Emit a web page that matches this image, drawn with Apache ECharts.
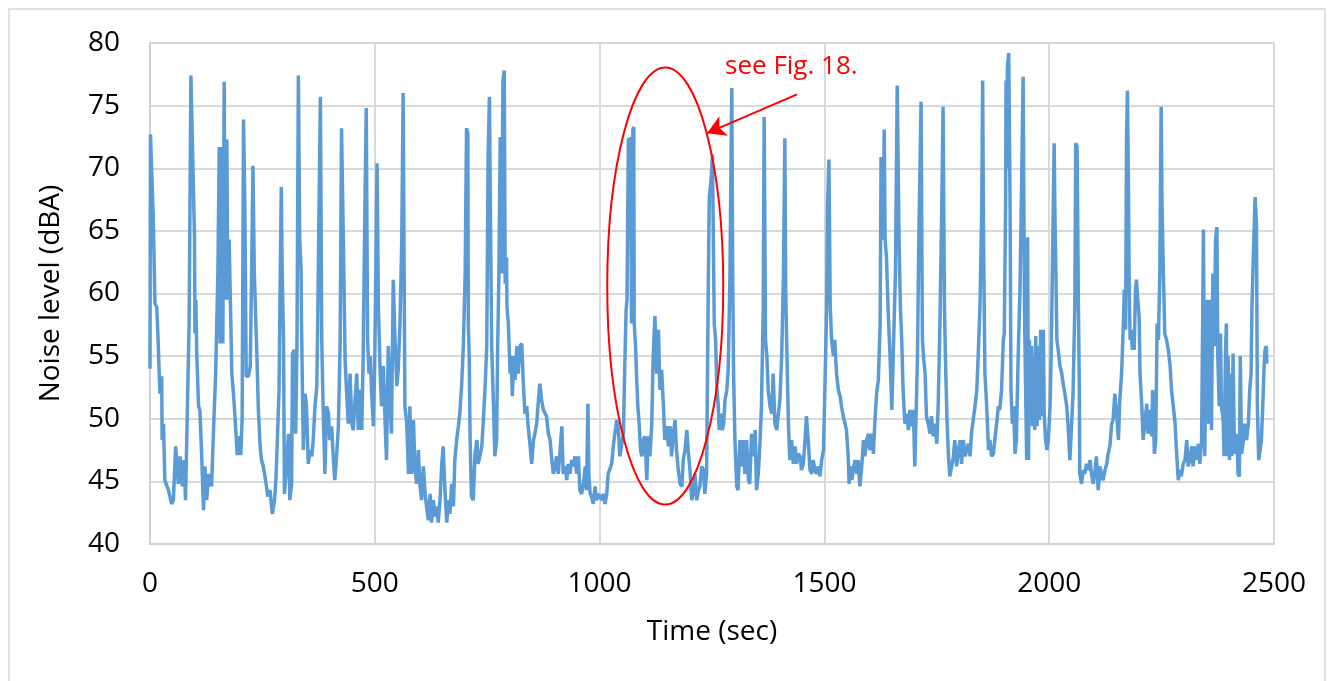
<!DOCTYPE html>
<html>
<head>
<meta charset="utf-8">
<script src="https://cdn.jsdelivr.net/npm/echarts@6/dist/echarts.min.js"></script>
<style>
  html, body { margin: 0; padding: 0; background: #fff; }
  #chart { width: 1334px; height: 681px; }
</style>
</head>
<body>
<div id="chart"></div>
<script>
// noise level time series, [time in sec, level in dBA]
var noiseSamples = [
  [0,54.0],[1,72.7],[2,72.6],[7,66.4],[11,59.2],[15,58.9],[18,56.3],[22,52.0],[26,53.4],[27,48.3],
  [30,49.6],[33,45.1],[41,44.3],[48,43.2],[52,43.5],[57,47.8],[63,44.8],[67,47.0],[72,44.6],[76,46.7],
  [79,43.5],[84,52.3],[87,57.6],[91,77.4],[95,77.3],[99,64.5],[100,56.8],[102,59.5],[104,55.2],[108,51.0],
  [111,50.7],[115,47.0],[119,42.7],[122,46.2],[126,43.5],[131,45.6],[137,44.6],[141,48.8],[146,53.6],[151,61.6],
  [154,71.7],[156,56.0],[159,71.7],[162,56.0],[165,76.9],[167,59.5],[171,72.3],[173,59.5],[176,64.3],[179,59.0],
  [182,53.6],[185,52.3],[189,50.2],[194,47.1],[198,48.6],[202,47.1],[205,50.2],[208,73.9],[211,66.9],[214,53.4],
  [219,53.4],[223,54.2],[226,61.6],[229,70.2],[232,61.6],[235,58.2],[238,54.7],[241,50.7],[245,47.8],[248,46.7],
  [252,46.2],[257,45.1],[262,43.8],[267,44.3],[272,42.4],[277,43.5],[280,45.1],[283,48.0],[287,52.3],[289,59.2],
  [292,68.5],[294,61.6],[297,56.3],[299,44.0],
  [304,46.4],[308,48.8],[311,43.5],[315,44.8],[317,55.2],[321,55.5],[324,48.8],[327,56.3],[330,77.4],[333,64.3],
  [336,61.9],[337,57.6],[341,47.5],[345,52.0],[348,51.0],[352,46.4],[356,47.5],[360,47.0],[363,48.3],[367,51.0],
  [371,52.6],[373,57.6],[376,66.9],[379,75.7],[382,56.3],[385,51.0],[389,45.6],[393,51.0],[397,50.4],[400,48.3],
  [404,49.4],[408,46.7],[411,45.1],[415,47.0],[419,49.4],[423,56.3],[426,73.2],[430,64.3],[434,54.7],[437,52.3],
  [441,49.6],[445,53.6],[449,49.6],[452,49.1],[456,51.5],[460,53.6],[463,49.1],[467,52.3],[471,49.1],[474,54.7],
  [478,66.9],[481,74.8],[484,56.3],[487,53.6],[490,55.0],[493,52.0],[497,49.4],[500,55.0],[505,70.4],[508,58.9],
  [512,53.6],[515,51.0],[519,54.2],[523,49.6],[526,46.7],[530,55.8],[534,51.5],[537,48.8],[541,61.1],[545,56.3],
  [549,52.6],[552,53.9],[556,57.6],[560,64.3],[563,76.0],[567,51.0],[571,49.6],[575,45.6],[578,51.0],[582,45.6],
  [586,49.9],[589,46.2],[593,44.8],[597,47.5],[600,44.8],[604,43.5],[608,46.2],[612,44.0],[615,43.0],[619,41.9],
  [623,44.0],[626,41.7],[630,43.5],[634,42.2],[638,43.0],[641,41.7],[645,43.5],[649,46.4],[652,47.8],[656,44.3],
  [660,41.7],[664,43.5],[667,42.4],[671,44.8],[675,43.0],[678,46.7],[682,48.3],[686,49.4],[689,50.4],[693,52.6],
  [697,55.8],[701,61.6],[704,73.2],[707,72.8],[708,57.6],[710,55.0],[712,48.3],[715,43.8],[719,43.5],[723,47.2],
  [727,48.3],[730,46.4],[734,46.4],[738,47.8],[741,49.6],[745,52.3],[749,55.8],[752,70.9],[755,75.7],[757,66.9],
  [760,55.8],[764,51.0],[767,47.0],[771,48.3],[773,55.0],[776,61.6],[779,72.5],[782,61.6],[785,77.0],[788,77.8],
  [790,60.8],[793,62.9],[794,58.9],[797,57.6],[801,53.6],[803,55.0],[806,51.8],[809,55.0],[812,53.1],[816,55.8],
  [819,53.6],[823,55.8],[827,56.0],[830,53.1],[834,50.4],[838,51.0],[841,49.4],[845,48.0],[849,46.4],[853,48.3],
  [856,48.8],[860,49.6],[864,51.5],[867,52.8],[871,51.5],[875,50.7],[879,50.4],[882,50.2],[886,48.8],[890,48.3],
  [893,47.0],[897,45.6],[901,46.2],[904,47.0],[908,45.6],[912,47.5],[916,49.4],[919,45.6],[923,46.2],
  [927,45.1],[930,46.4],[934,45.6],[938,46.7],[942,46.2],[945,47.0],[949,45.6],[953,47.0],[956,44.3],[960,44.0],
  [964,44.8],[968,46.2],[971,44.3],[974,51.2],[976,45.6],[979,44.0],[982,43.8],[986,43.2],[990,44.6],[993,43.5],
  [997,44.0],[1001,44.0],[1005,43.5],[1008,44.0],[1012,43.2],[1016,44.0],[1019,45.6],[1023,45.6],[1027,46.4],[1031,48.0],
  [1034,48.8],[1038,49.9],[1042,49.1],[1045,47.0],[1049,47.0],[1053,48.8],[1056,54.2],[1059,58.7],[1061,59.5],[1064,72.4],
  [1067,69.6],[1069,72.5],[1071,57.6],[1074,73.1],[1076,73.3],[1077,57.6],[1080,55.8],[1082,53.6],[1085,51.0],[1088,49.6],
  [1091,47.5],[1094,47.0],[1097,48.3],[1101,48.6],[1105,45.1],[1108,48.6],[1112,47.0],[1116,49.6],[1119,54.7],[1123,58.2],
  [1127,53.6],[1131,57.1],[1134,52.3],[1138,53.9],[1142,51.0],[1145,48.3],[1149,49.4],[1153,47.8],[1157,49.4],[1160,47.0],
  [1164,48.8],[1168,49.9],[1171,47.5],[1175,45.9],[1179,44.8],[1183,44.6],[1186,46.7],[1190,47.5],[1194,49.1],[1197,47.5],
  [1201,45.9],[1205,43.5],[1208,44.0],[1212,45.6],[1216,43.5],[1220,44.3],[1223,44.6],[1227,46.2],[1231,45.9],[1234,44.0],
  [1238,45.6],
  [1242,61.6],[1244,67.7],[1248,69.1],[1251,71.1],[1253,64.3],[1255,57.6],[1258,56.3],[1261,52.3],[1264,51.0],[1266,49.1],
  [1270,50.4],[1273,49.1],[1276,49.6],[1279,51.5],[1283,52.3],[1286,53.9],[1290,61.6],[1292,69.6],[1294,76.4],[1296,61.6],
  [1298,53.6],[1301,48.3],[1305,44.6],[1308,44.3],[1312,48.3],[1316,46.2],[1320,48.3],[1323,45.6],[1327,48.3],[1331,45.1],
  [1334,44.8],[1338,48.8],[1342,47.0],[1346,49.1],[1349,44.3],[1353,45.6],[1357,48.3],[1360,51.0],[1364,58.9],[1366,74.1],
  [1369,56.3],[1372,55.0],[1375,52.3],[1379,51.0],[1383,50.4],[1386,53.6],[1390,49.6],[1394,49.1],[1397,50.2],[1401,51.5],
  [1405,55.0],[1409,61.6],[1412,72.4],[1414,60.3],[1416,56.3],[1420,49.6],[1423,46.7],[1427,48.3],[1431,46.4],[1435,47.8],
  [1438,46.4],[1442,47.2],[1446,47.0],[1449,45.9],[1453,46.4],[1457,48.3],[1460,50.2],[1464,48.3],[1468,45.9],[1472,45.6],
  [1475,46.7],[1479,45.9],[1483,45.6],[1486,46.2],[1490,45.4],[1494,46.7],[1498,47.5],[1501,52.3],[1505,58.9],[1507,66.9],
  [1510,70.7],[1513,58.9],[1516,56.3],[1520,55.0],[1523,56.3],[1527,53.6],[1531,52.3],[1535,51.8],[1538,51.0],[1542,50.2],
  [1546,49.6],[1549,49.1],[1553,47.0],[1555,44.8],
  [1557,46.2],[1561,45.1],[1564,45.9],[1568,46.7],[1572,45.6],[1575,46.7],[1579,44.6],[1583,46.2],[1587,48.3],[1590,47.0],
  [1594,48.3],[1598,48.8],[1601,47.5],[1605,48.8],[1609,47.2],[1612,49.6],[1616,52.0],[1620,53.1],[1624,57.6],[1626,70.9],
  [1629,70.9],[1631,64.3],[1633,73.1],[1635,64.3],[1638,62.9],[1642,58.4],[1646,55.0],[1650,50.7],[1653,50.7],[1655,57.6],
  [1658,61.6],[1662,76.6],[1666,64.3],[1669,58.9],[1672,56.3],[1675,52.3],[1679,49.6],[1683,50.4],[1687,49.1],[1690,50.7],
  [1694,49.4],[1698,50.7],[1701,46.2],[1704,50.4],[1707,55.0],[1710,64.3],[1715,75.3],[1718,56.3],[1721,54.7],[1724,53.6],
  [1727,50.2],[1731,49.6],[1735,48.8],[1738,50.2],[1742,48.6],[1746,49.6],[1750,48.0],[1753,51.0],[1757,57.6],[1761,66.9],
  [1764,74.9],[1767,58.9],[1770,53.6],[1773,49.6],[1776,47.0],[1779,45.4],[1783,46.2],[1787,47.0],[1790,48.3],[1794,46.2],
  [1798,47.5],[1802,48.3],[1805,46.4],[1809,48.3],[1813,47.0],[1816,47.0],[1820,48.0],[1824,47.0],[1827,48.8],[1831,49.9],
  [1835,51.0],[1839,52.3],[1842,55.0],[1846,58.9],[1850,66.9],[1852,77.0],[1854,64.3],[1857,53.6],[1861,51.0],[1865,47.5],
  [1868,48.3],[1872,47.0],[1876,47.2],[1879,48.3],[1883,49.6],[1887,51.0],[1890,50.7],[1894,52.3],[1898,56.3],[1900,56.8],
  [1903,66.9],[1904,77.0],[1906,70.0],[1907,78.1],[1910,79.2],[1913,66.9],[1915,52.3],[1918,49.6],[1921,51.0],[1924,47.2],
  [1927,48.3],[1931,55.0],[1935,60.3],[1939,69.6],[1942,77.3],[1945,58.9],[1947,53.6],[1950,46.7],[1952,64.5],[1954,46.7],
  [1956,56.3],[1959,49.6],[1961,55.8],[1963,49.4],[1965,55.0],[1968,49.1],[1970,56.6],[1973,49.4],[1976,55.8],[1978,49.9],
  [1981,57.1],[1984,50.2],[1987,57.1],[1989,50.2],[1992,48.3],[1995,47.5],[1998,48.3],[2002,51.0],[2005,56.3],[2008,64.3],
  [2011,72.0],[2013,65.6],[2015,61.6],[2017,56.3],[2020,55.5],[2024,54.2],[2028,53.6],[2031,52.8],[2035,52.0],[2039,51.0],
  [2042,49.4],[2046,46.7],[2050,46.7],[2053,52.0],[2057,58.9],[2059,72.0],[2062,71.7],[2065,58.9],[2067,52.3],[2068,45.6],
  [2072,44.8],[2076,45.9],[2079,45.6],[2083,46.4],[2087,45.9],[2091,46.7],[2094,45.6],[2098,44.8],[2102,45.9],[2105,47.0],
  [2109,44.3],[2113,46.2],[2117,45.4],[2120,45.1],[2124,45.9],[2128,46.4],[2131,47.2],[2135,47.8],[2139,49.6],[2142,49.9],
  [2146,52.0],[2150,50.4],[2154,48.3],[2157,51.5],[2161,53.6],[2165,57.6],[2167,60.3],[2170,57.1],[2172,72.3],[2174,76.2],
  [2176,69.6],[2178,60.3],[2180,56.3],[2182,57.1],[2185,55.5],[2187,56.8],[2189,55.5],[2192,60.3],[2194,61.1],[2197,59.5],
  [2200,58.2],[2202,53.6],[2206,51.0],[2209,48.3],[2213,48.3],[2217,51.2],[2220,48.8],[2224,50.7],[2228,48.6],[2230,52.3],
  [2234,47.2],[2237,48.3],[2240,57.6],[2243,56.3],[2246,61.6],[2249,74.9],[2251,66.9],[2254,61.6],[2257,56.8],[2261,56.3],
  [2265,55.5],[2269,54.2],[2272,52.3],[2276,51.0],[2280,49.6],[2283,47.5],[2287,45.1],[2291,45.9],[2294,45.4],[2298,46.4],
  [2302,46.7],[2306,48.3],[2309,46.2],[2313,46.7],[2317,47.8],[2320,46.2],[2324,47.8],[2328,46.7],[2332,48.0],[2335,46.4],
  [2339,48.3],[2341,56.3],[2343,65.1],[2346,47.0],[2349,56.3],[2352,59.5],[2355,49.6],[2358,59.5],[2361,49.1],[2364,61.6],
  [2367,55.8],[2370,64.3],[2373,65.3],[2375,55.0],[2378,51.0],[2381,56.8],[2383,51.0],[2387,49.9],[2389,47.0],[2392,55.0],
  [2394,57.6],[2396,47.0],[2398,55.0],[2401,46.7],[2403,53.6],[2406,47.0],[2409,55.2],[2412,47.2],[2415,48.8],[2418,48.3],
  [2420,45.6],[2423,45.4],[2425,55.0],[2428,47.2],[2432,48.3],[2435,49.6],[2439,48.3],[2443,49.6],[2446,52.3],[2449,53.6],
  [2451,58.9],[2454,62.9],[2458,67.7],[2461,65.6],[2463,51.0],[2466,46.7],[2469,46.7],[2472,48.3],[2475,51.0],[2478,54.2],
  [2480,55.5],[2483,55.8],[2484,54.4]
];

var xTicks = [0, 500, 1000, 1500, 2000, 2500];
var yTicks = [40, 45, 50, 55, 60, 65, 70, 75, 80];

// annotation, in data units: ellipse round the 1050-1250 s event, arrow and note
var noteText = 'see Fig. 18.';
var noteAt = [1279, 78.1];
var ellipseCenter = [1146, 60.6];
var ellipseRadius = [129, 17.45];
var arrowFrom = [1439, 75.9];
var arrowTo = [1239, 72.8];

var font = 'Open Sans';
var chart = echarts.init(document.getElementById('chart'));

var option = {
    animation: false,
    backgroundColor: '#fff',
    grid: { left: 150, right: 60, top: 43, bottom: 137 },
    xAxis: {
        type: 'value',
        min: xTicks[0],
        max: xTicks[xTicks.length - 1],
        interval: xTicks[1] - xTicks[0],
        axisLine: { show: true, lineStyle: { color: '#d0d0d0', width: 2 } },
        axisTick: { show: false },
        splitLine: { show: true, lineStyle: { color: '#d9d9d9', width: 2 } },
        axisLabel: {
            color: '#000', fontSize: 28, fontFamily: font, margin: 26,
            formatter: function (v) { return String(v); }
        },
        name: 'Time (sec)',
        nameLocation: 'middle',
        nameGap: 74,
        nameTextStyle: { color: '#000', fontSize: 28, fontFamily: font }
    },
    yAxis: {
        type: 'value',
        min: yTicks[0],
        max: yTicks[yTicks.length - 1],
        interval: yTicks[1] - yTicks[0],
        axisLine: { show: true, lineStyle: { color: '#d0d0d0', width: 2 } },
        axisTick: { show: false },
        splitLine: { show: true, lineStyle: { color: '#d9d9d9', width: 2 } },
        axisLabel: { color: '#000', fontSize: 28, fontFamily: font, margin: 30 },
        name: 'Noise level (dBA)',
        nameLocation: 'middle',
        nameGap: 85,
        nameTextStyle: { color: '#000', fontSize: 28, fontFamily: font }
    },
    series: [{
        type: 'line',
        data: noiseSamples,
        symbol: 'none',
        lineStyle: { color: '#5b9bd5', width: 3.5 },
        markLine: {
            silent: true,
            symbol: ['none', 'arrow'],
            symbolSize: [16, 18],
            label: { show: false },
            lineStyle: { color: '#ff0000', width: 2, type: 'solid' },
            data: [[{ coord: arrowFrom }, { coord: arrowTo }]]
        }
    }]
};
chart.setOption(option);

// ellipse and note placed through the axes
var c = chart.convertToPixel({ gridIndex: 0 }, ellipseCenter);
var edge = chart.convertToPixel({ gridIndex: 0 },
    [ellipseCenter[0] + ellipseRadius[0], ellipseCenter[1] + ellipseRadius[1]]);
var notePx = chart.convertToPixel({ gridIndex: 0 }, noteAt);

chart.setOption({
    graphic: [
        {
            type: 'rect',
            shape: { x: 9, y: 9, width: 1316, height: 700 },
            style: { fill: 'none', stroke: '#d9d9d9', lineWidth: 1.5 },
            silent: true
        },
        {
            type: 'ellipse',
            shape: { cx: c[0], cy: c[1], rx: edge[0] - c[0], ry: c[1] - edge[1] },
            style: { fill: 'none', stroke: '#ff0000', lineWidth: 2 },
            silent: true,
            z: 10
        },
        {
            type: 'text',
            x: notePx[0],
            y: notePx[1],
            style: {
                text: noteText, fill: '#ff0000', fontSize: 26, fontFamily: font,
                verticalAlign: 'middle', align: 'left'
            },
            silent: true,
            z: 10
        }
    ]
});
</script>
</body>
</html>
